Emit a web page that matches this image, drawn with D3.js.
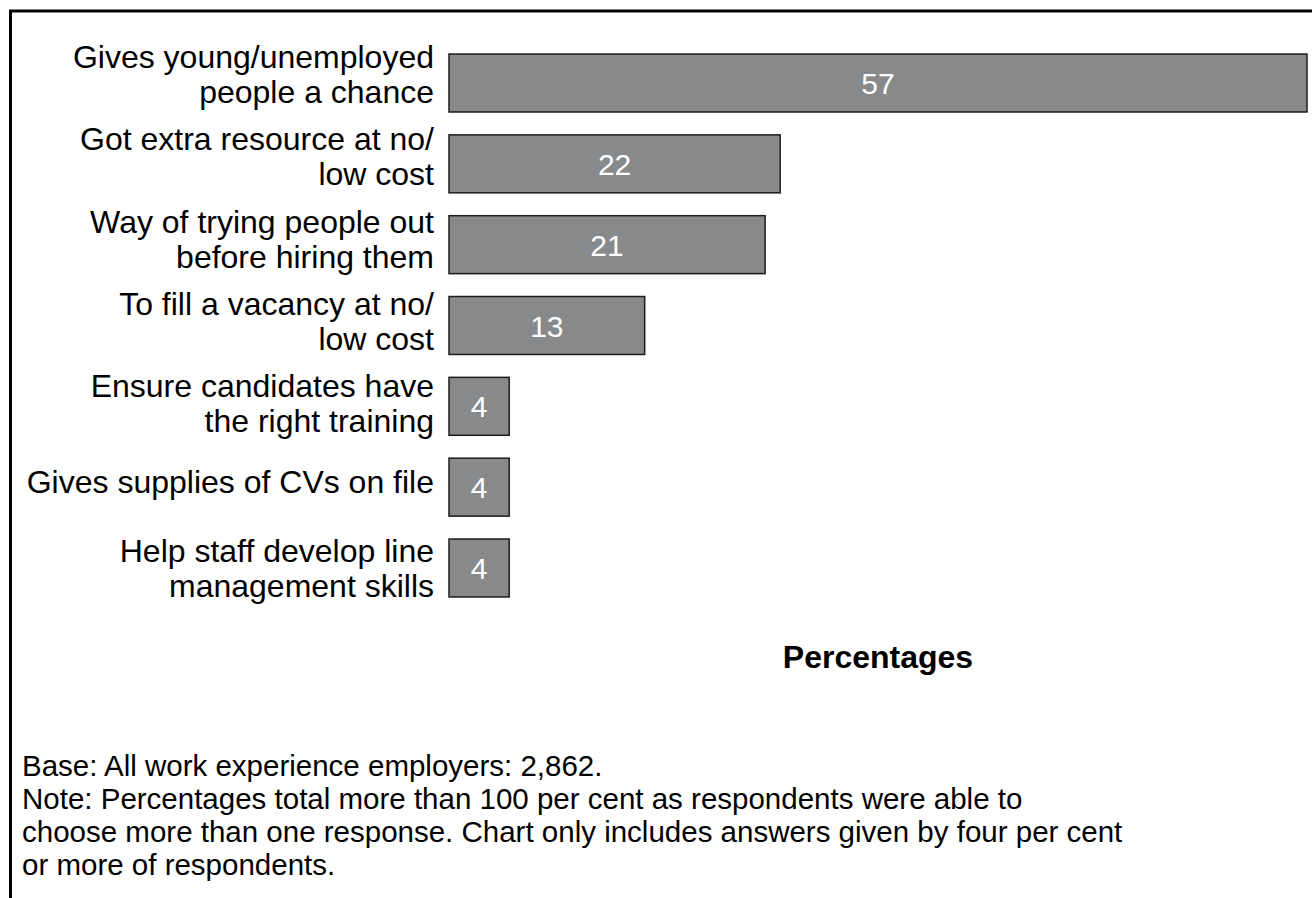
<!DOCTYPE html>
<html>
<head>
<meta charset="utf-8">
<script src="https://cdn.jsdelivr.net/npm/d3@7"></script>
<style>
  html, body { margin: 0; padding: 0; background: #ffffff; }
  svg { display: block; }
  text { font-family: "Liberation Sans", Arial, sans-serif; }
</style>
</head>
<body>
<svg id="chart" width="1312" height="898"></svg>
<script>
// ---- data ----
const categories = [
  ["Gives young/unemployed", "people a chance"],
  ["Got extra resource at no/", "low cost"],
  ["Way of trying people out", "before hiring them"],
  ["To fill a vacancy at no/", "low cost"],
  ["Ensure candidates have", "the right training"],
  ["Gives supplies of CVs on file"],
  ["Help staff develop line", "management skills"]
];
const values = [57, 22, 21, 13, 4, 4, 4];
const axisTitle = "Percentages";
const footnotes = [
  "Base: All work experience employers: 2,862.",
  "Note: Percentages total more than 100 per cent as respondents were able to",
  "choose more than one response. Chart only includes answers given by four per cent",
  "or more of respondents."
];

// ---- layout ----
const svg = d3.select("#chart");
const W = 1312, H = 898;

// frame (open at right / bottom, as in the reference)
svg.append("path")
  .attr("d", `M10.5,${H + 5} L10.5,11 L${W + 5},11`)
  .attr("fill", "none")
  .attr("stroke", "#000")
  .attr("stroke-width", 3);

const x = d3.scaleLinear().domain([0, 57]).range([449, 1307]);
const y = d3.scaleBand()
  .domain(d3.range(values.length))
  .range([54 - 11.4, 597 + 11.4])
  .paddingInner(0.283)
  .paddingOuter(0.1415);
// category-label anchor positions (first-line baselines)
const yLabel = d3.scalePoint()
  .domain(d3.range(values.length))
  .range([68, 562]);

const rows = svg.append("g").selectAll("g")
  .data(values.map((v, i) => ({ v, i, label: categories[i] })))
  .join("g");

rows.append("rect")
  .attr("x", x(0))
  .attr("y", d => y(d.i))
  .attr("width", d => x(d.v) - x(0))
  .attr("height", y.bandwidth())
  .attr("fill", "#88898b")
  .attr("stroke", "#1c1c1c")
  .attr("stroke-width", 1.5);

rows.append("text")
  .attr("x", d => (x(0) + x(d.v)) / 2)
  .attr("y", d => y(d.i) + y.bandwidth() / 2 + 11)
  .attr("text-anchor", "middle")
  .attr("fill", "#ffffff")
  .attr("font-size", 30)
  .text(d => d.v);

rows.append("text")
  .attr("text-anchor", "end")
  .attr("font-size", 32)
  .attr("fill", "#000")
  .each(function (d) {
    const t = d3.select(this);
    const n = d.label.length;
    const base = n === 1 ? yLabel(d.i) + 13 : yLabel(d.i);
    d.label.forEach((line, k) => {
      t.append("tspan")
        .attr("x", 434)
        .attr("y", base + k * 35)
        .text(line);
    });
  });

svg.append("text")
  .attr("x", 878)
  .attr("y", 668)
  .attr("text-anchor", "middle")
  .attr("font-size", 32)
  .attr("font-weight", "bold")
  .text(axisTitle);

svg.append("g").selectAll("text")
  .data(footnotes)
  .join("text")
  .attr("x", 22)
  .attr("y", (d, i) => 776 + i * 33)
  .attr("font-size", 29.5)
  .text(d => d);
</script>
</body>
</html>
